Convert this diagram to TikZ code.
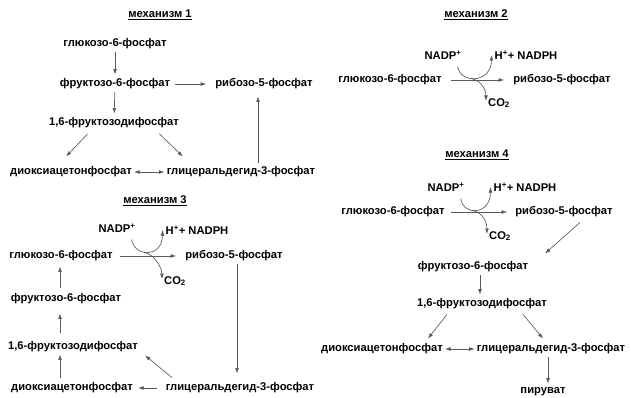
\documentclass[tikz,border=0pt]{standalone}
\usepackage{fontspec}
\setmainfont{Liberation Sans}
\usetikzlibrary{arrows.meta}

\tikzset{
  met/.style={font=\bfseries\fontsize{11.2}{13}\selectfont, inner sep=1pt},
  ttl/.style={met},
  cof/.style={met},
  rxn/.style={draw=black!65, line width=0.65pt, -{Latex[length=5.5pt,width=3.8pt]},
    shorten <=2pt, shorten >=3pt},
  both/.style={rxn, {Latex[length=5.5pt,width=3.8pt]}-{Latex[length=5.5pt,width=3.8pt]},
    shorten <=1pt, shorten >=1pt},
}

\begin{document}
\begin{tikzpicture}[x=1pt, y=-1pt]
      \useasboundingbox (0,0) rectangle (631,398);

      \node[ttl] (t1) at (160,15) {\underline{механизм 1}};
      \node[met] (g6p1) at (115,44) {глюкозо-6-фосфат};
      \node[met] (f6p1) at (115,84) {фруктозо-6-фосфат};
      \node[met] (r5p1) at (264,84) {рибозо-5-фосфат};
      \node[met] (fdp1) at (114,123) {1,6-фруктозодифосфат};
      \node[met] (dap1) at (71,172) {диоксиацетонфосфат};
      \node[met] (gap1) at (241,172) {глицеральдегид-3-фосфат};

      \draw[rxn] (g6p1) -- (f6p1);
      \draw[rxn, shorten <=4pt, shorten >=8pt] (f6p1) -- (r5p1);
      \draw[rxn] (f6p1) -- (fdp1);
      \draw[rxn] ([xshift=-25pt,yshift=-3pt]fdp1.south) -- ([xshift=-7pt,yshift=7pt]dap1.north);
      \draw[rxn] ([xshift=44pt,yshift=-3pt]fdp1.south) -- ([xshift=-56pt,yshift=7pt]gap1.north);
      \draw[both] (dap1) -- (gap1);
      \draw[rxn, shorten <=3pt, shorten >=6pt] ([xshift=17pt]gap1.north) -- ([xshift=-6pt]r5p1.south);

      \node[ttl] (t2) at (476,15) {\underline{механизм 2}};
      \node[met] (g6p2) at (390,80) {глюкозо-6-фосфат};
      \node[met] (r5p2) at (562,80) {рибозо-5-фосфат};
      \node[cof] (nadp2) at (443,55) {NADP\textsuperscript{+}};
      \node[cof] (nadph2) at (526,55) {H\textsuperscript{+}+ NADPH};
      \node[cof] (co2b) at (499,103) {CO\textsubscript{2}};

      \draw[rxn, shorten <=8pt, shorten >=8pt] (g6p2) -- (r5p2);
      \draw[rxn, shorten <=0pt, shorten >=0pt] ([xshift=-5pt,yshift=-6pt]nadp2.south east)
        .. controls +(3,18) and +(0,28) .. coordinate[pos=0.4] (k2) ([xshift=-2pt]nadph2.west);
      \draw[rxn, shorten <=0pt, shorten >=0pt] (k2) .. controls +(12,3) and +(0,-10) .. ([xshift=-1pt,yshift=2pt]co2b.west);

      \node[ttl] (t3) at (155,201) {\underline{механизм 3}};
      \node[met] (g6p3) at (61,256) {глюкозо-6-фосфат};
      \node[met] (r5p3) at (234,256) {рибозо-5-фосфат};
      \node[cof] (nadp3) at (117,228) {NADP\textsuperscript{+}};
      \node[cof] (nadph3) at (197,230) {H\textsuperscript{+}+ NADPH};
      \node[cof] (co2c) at (175,281) {CO\textsubscript{2}};
      \node[met] (f6p3) at (66,299) {фруктозо-6-фосфат};
      \node[met] (fdp3) at (73,347) {1,6-фруктозодифосфат};
      \node[met] (dap3) at (72,388) {диоксиацетонфосфат};
      \node[met] (gap3) at (240,388) {глицеральдегид-3-фосфат};

      \draw[rxn, shorten <=6pt, shorten >=8pt] (g6p3) -- (r5p3);
      \draw[rxn, shorten <=0pt, shorten >=0pt] ([xshift=-5pt,yshift=-6pt]nadp3.south east)
        .. controls +(3,18) and +(0,28) .. coordinate[pos=0.4] (k3) ([xshift=-2pt]nadph3.west);
      \draw[rxn, shorten <=0pt, shorten >=0pt] (k3) .. controls +(12,3) and +(0,-10) .. ([xshift=-1pt,yshift=2pt]co2c.west);
      \draw[rxn, shorten <=5pt, shorten >=4pt] ([xshift=-6pt]f6p3.north) -- ([xshift=-1pt]g6p3.south);
      \draw[rxn, shorten <=8pt, shorten >=8pt] ([xshift=-13pt]fdp3.north) -- ([xshift=-6pt]f6p3.south);
      \draw[rxn, shorten <=4pt, shorten >=1pt] ([xshift=-12pt]dap3.north) -- ([xshift=-13pt]fdp3.south);
      \draw[rxn, shorten <=8pt, shorten >=4pt] (gap3) -- (dap3);
      \draw[rxn, shorten <=0pt, shorten >=0pt] ([xshift=-68pt,yshift=4pt]gap3.north) -- ([xshift=72pt,yshift=-2pt]fdp3.south);
      \draw[rxn, shorten <=2pt, shorten >=8pt] ([xshift=3pt]r5p3.south) -- ([xshift=-3pt]gap3.north);

      \node[ttl] (t4) at (477,155) {\underline{механизм 4}};
      \node[met] (g6p4) at (393,212) {глюкозо-6-фосфат};
      \node[met] (r5p4) at (564,212) {рибозо-5-фосфат};
      \node[cof] (nadp4) at (446,187) {NADP\textsuperscript{+}};
      \node[cof] (nadph4) at (525,187) {H\textsuperscript{+}+ NADPH};
      \node[cof] (co2d) at (500,236) {CO\textsubscript{2}};
      \node[met] (f6p4) at (473,267) {фруктозо-6-фосфат};
      \node[met] (fdp4) at (482,304) {1,6-фруктозодифосфат};
      \node[met] (dap4) at (382,349) {диоксиацетонфосфат};
      \node[met] (gap4) at (551,349) {глицеральдегид-3-фосфат};
      \node[met] (pyr4) at (543,392) {пируват};

      \draw[rxn, shorten <=5pt, shorten >=7pt] (g6p4) -- (r5p4);
      \draw[rxn, shorten <=0pt, shorten >=0pt] ([xshift=-5pt,yshift=-6pt]nadp4.south east)
        .. controls +(3,18) and +(0,28) .. coordinate[pos=0.4] (k4) ([xshift=-2pt]nadph4.west);
      \draw[rxn, shorten <=0pt, shorten >=0pt] (k4) .. controls +(12,3) and +(0,-10) .. ([xshift=-1pt,yshift=2pt]co2d.west);
      \draw[rxn, shorten <=0pt, shorten >=0pt] ([xshift=16pt,yshift=-4pt]r5p4.south) -- ([xshift=72pt,yshift=7pt]f6p4.north);
      \draw[rxn] ([xshift=7pt]f6p4.south) -- ([xshift=-2pt]fdp4.north);
      \draw[rxn, shorten <=0pt, shorten >=0pt] ([xshift=-35pt,yshift=-4pt]fdp4.south) -- ([xshift=46pt,yshift=4pt]dap4.north);
      \draw[rxn, shorten <=0pt, shorten >=0pt] ([xshift=41pt,yshift=-4pt]fdp4.south) -- ([xshift=-8pt,yshift=4pt]gap4.north);
      \draw[both] (dap4) -- (gap4);
      \draw[rxn] ([xshift=-3pt]gap4.south) -- ([xshift=5pt]pyr4.north);

    \end{tikzpicture}
\end{document}
